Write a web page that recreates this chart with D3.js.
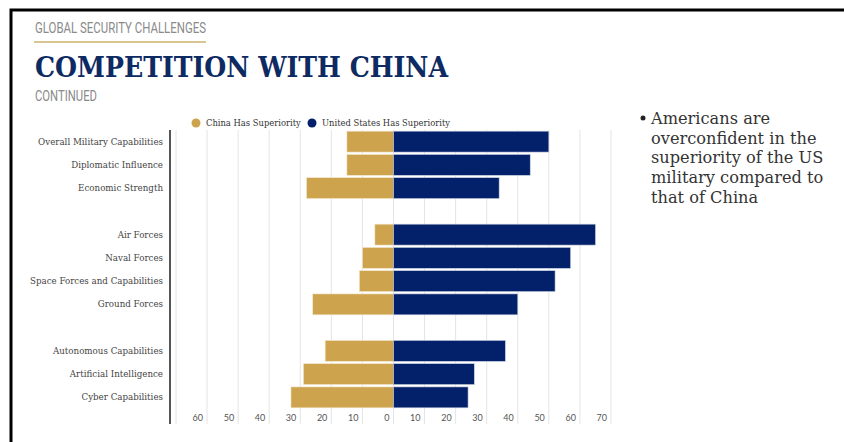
<!DOCTYPE html>
<html>
<head>
<meta charset="utf-8">
<script src="https://cdn.jsdelivr.net/npm/d3@7"></script>
<style>
  body { margin: 0; background: #fff; }
  svg { display: block; }
</style>
</head>
<body>
<div id="chart"></div>
<script>
// Survey categories, grouped; "" marks a blank spacer row
const categories = [
    "Overall Military Capabilities", "Diplomatic Influence", "Economic Strength", "",
    "Air Forces", "Naval Forces", "Space Forces and Capabilities", "Ground Forces", "",
    "Autonomous Capabilities", "Artificial Intelligence", "Cyber Capabilities"
];
const chinaValues = [15, 15, 28, null, 6, 10, 11, 26, null, 22, 29, 33];
const usValues = [50, 44, 34, null, 65, 57, 52, 40, null, 36, 26, 24];
const tickValues = [-70, -60, -50, -40, -30, -20, -10, 0, 10, 20, 30, 40, 50, 60, 70];
const seriesNames = ["China Has Superiority", "United States Has Superiority"];
const bulletLines = ["Americans are", "overconfident in the", "superiority of the US", "military compared to", "that of China"];

const width = 844;
const height = 442;
const gold = "#cda34e";
const navy = "#03216a";

const svg = d3.select("#chart").append("svg")
    .attr("width", width)
    .attr("height", height);

// Slide frame
svg.append("rect")
    .attr("x", 11).attr("y", 10)
    .attr("width", width + 20).attr("height", height + 20)
    .attr("fill", "none")
    .attr("stroke", "#000")
    .attr("stroke-width", 3);

// Header
svg.append("text")
    .attr("x", 35).attr("y", 33)
    .attr("textLength", 171).attr("lengthAdjust", "spacingAndGlyphs")
    .style("font-family", "Roboto, 'Liberation Sans', sans-serif")
    .style("font-size", "14px")
    .attr("fill", "#8a8a8a")
    .text("GLOBAL SECURITY CHALLENGES");

svg.append("line")
    .attr("x1", 34).attr("x2", 206)
    .attr("y1", 42).attr("y2", 42)
    .attr("stroke", "#d8c58f")
    .attr("stroke-width", 2);

svg.append("text")
    .attr("x", 35).attr("y", 77)
    .attr("textLength", 413).attr("lengthAdjust", "spacingAndGlyphs")
    .style("font-family", "'DejaVu Serif', serif")
    .style("font-weight", "bold")
    .style("font-size", "28px")
    .attr("fill", "#0e2a63")
    .text("COMPETITION WITH CHINA");

svg.append("text")
    .attr("x", 35).attr("y", 101)
    .attr("textLength", 62).attr("lengthAdjust", "spacingAndGlyphs")
    .style("font-family", "Roboto, 'Liberation Sans', sans-serif")
    .style("font-size", "14px")
    .attr("fill", "#8a8a8a")
    .text("CONTINUED");

// Scales
const rowIds = categories.map((d, i) => i);
const y = d3.scaleBand()
    .domain(rowIds)
    .range([130, 409])
    .paddingInner(0.1)
    .paddingOuter(0.05);

const x = d3.scaleLinear()
    .domain([-70, 70])
    .range([176, 611]);

// Gridlines
svg.append("g")
    .selectAll("line")
    .data(tickValues)
    .join("line")
    .attr("x1", d => x(d)).attr("x2", d => x(d))
    .attr("y1", 130).attr("y2", 424)
    .attr("stroke", "#e4e4e4")
    .attr("stroke-width", 1);

// Tick labels (sit just left of each gridline)
svg.append("g")
    .selectAll("text")
    .data(tickValues.filter(d => d > -70))
    .join("text")
    .attr("x", d => x(d) - 4)
    .attr("y", 421)
    .attr("text-anchor", "end")
    .style("font-family", "Lato, 'Open Sans', sans-serif")
    .style("font-size", "9px")
    .attr("fill", "#555")
    .text(d => Math.abs(d));

// Bars
const rows = categories.map((name, i) => ({ id: i, name, china: chinaValues[i], us: usValues[i] }))
    .filter(d => d.name !== "");

svg.append("g")
    .selectAll("rect")
    .data(rows)
    .join("rect")
    .attr("x", d => x(-d.china))
    .attr("y", d => y(d.id))
    .attr("width", d => x(0) - x(-d.china))
    .attr("height", y.bandwidth())
    .attr("fill", gold)
    .attr("stroke", "#f3e8cf")
    .attr("stroke-width", 0.6);

svg.append("g")
    .selectAll("rect")
    .data(rows)
    .join("rect")
    .attr("x", x(0))
    .attr("y", d => y(d.id))
    .attr("width", d => x(d.us) - x(0))
    .attr("height", y.bandwidth())
    .attr("fill", navy)
    .attr("stroke", "#c9cfe0")
    .attr("stroke-width", 0.6);

// Category labels
svg.append("g")
    .selectAll("text")
    .data(rows)
    .join("text")
    .attr("x", 163)
    .attr("y", d => y(d.id) + y.bandwidth() / 2)
    .attr("dy", "0.35em")
    .attr("text-anchor", "end")
    .style("font-family", "'DejaVu Serif', serif")
    .style("font-size", "8.7px")
    .attr("fill", "#444")
    .text(d => d.name);

// Vertical axis line
svg.append("line")
    .attr("x1", 170).attr("x2", 170)
    .attr("y1", 130).attr("y2", 424)
    .attr("stroke", "#555")
    .attr("stroke-width", 2);

// Legend
const legend = svg.append("g").attr("transform", "translate(196,123)");
const legendItems = legend.selectAll("g")
    .data(seriesNames)
    .join("g")
    .attr("transform", (d, i) => `translate(${i * 116},0)`);

legendItems.append("circle")
    .attr("r", 4.5)
    .attr("fill", (d, i) => i === 0 ? gold : navy);

legendItems.append("text")
    .attr("x", 10)
    .attr("dy", "0.35em")
    .style("font-family", "'DejaVu Serif', serif")
    .style("font-size", "8.4px")
    .attr("fill", "#333")
    .text(d => d);

// Bullet note
svg.append("circle")
    .attr("cx", 643).attr("cy", 118)
    .attr("r", 2.5)
    .attr("fill", "#222");

svg.append("g")
    .selectAll("text")
    .data(bulletLines)
    .join("text")
    .attr("x", 651)
    .attr("y", (d, i) => 124 + i * 19.7)
    .style("font-family", "'DejaVu Serif', serif")
    .style("font-size", "16.2px")
    .attr("fill", "#333")
    .text(d => d);
</script>
</body>
</html>
